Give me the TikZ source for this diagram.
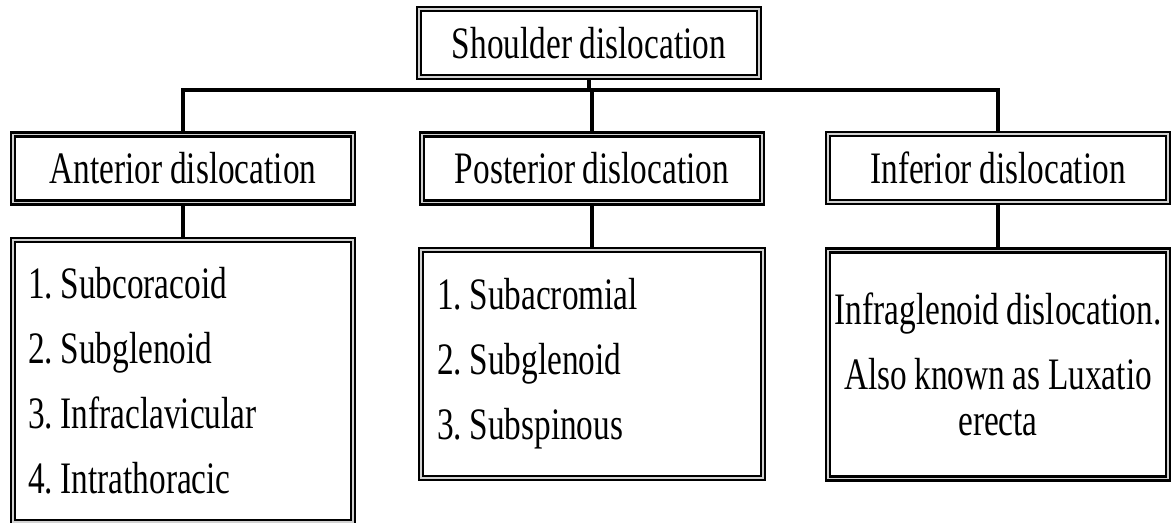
\documentclass[tikz,border=0pt]{standalone}
\usepackage{fontspec}
\setmainfont{Liberation Serif}[FakeStretch=0.74,WordSpace=0.92]
\frenchspacing
\begin{document}
\begin{tikzpicture}[x=0.5pt,y=-0.5pt,
  dbox/.style={draw, line width=1.3pt, double=gray!35, double distance=0.6pt,
    fill=white, font=\fontsize{22.5}{23}\selectfont},
  head/.style={dbox, minimum width=170pt, minimum height=34pt, inner sep=0pt},
  list/.style={dbox, text width=155pt, inner xsep=7.5pt, align=flush left},
  link/.style={line width=1.6pt}]
  \useasboundingbox (0,0) rectangle (1171,523);
  % top
  \node[head] (top) at (589,43) {Shoulder dislocation};
  \coordinate (hub) at (589,90);
  % three kinds
  \node[head] (ant) at (183,168.5) {Anterior dislocation};
  \node[head] (post) at (592,168.5) {Posterior dislocation};
  \node[head] (inf) at (998,168) {Inferior dislocation};
  % sub-types
  \node[list, minimum height=141pt] (antlist) at (183,381)
    {1. Subcoracoid\\[9.5pt] 2. Subglenoid\\[9.5pt] 3. Infraclavicular\\[9.5pt] 4. Intrathoracic};
  \node[list, minimum height=114pt, inner xsep=8pt] (postlist) at (592,364)
    {1. Subacromial\\[9.5pt] 2. Subglenoid\\[9.5pt] 3. Subspinous};
  \node[dbox, text width=168pt, inner xsep=1pt, align=flush center, minimum height=114pt] (inflist) at (998,364.5)
    {Infraglenoid dislocation.\\[9.5pt] Also known as Luxatio\\ erecta};
  % connectors
  \draw[link] (top.south) -- (hub);
  \draw[link] (ant.north) |- (hub) -| (inf.north);
  \draw[link] (post.north) -- (post.north |- hub);
  \draw[link] (ant.south) -- (antlist.north);
  \draw[link] (post.south) -- (postlist.north);
  \draw[link] (inf.south) -- (inflist.north);
\end{tikzpicture}
\end{document}
